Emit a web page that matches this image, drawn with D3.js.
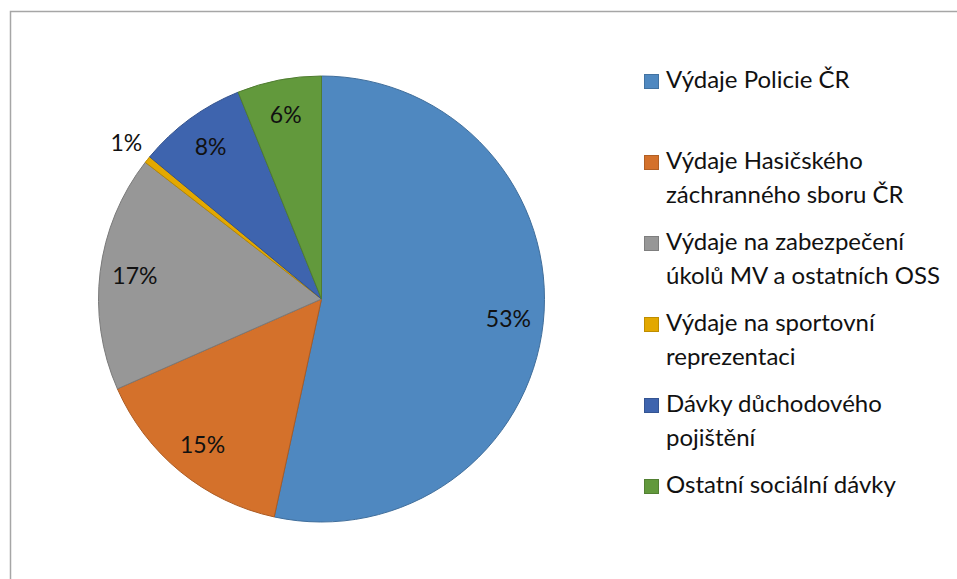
<!DOCTYPE html>
<html>
<head>
<meta charset="utf-8">
<script src="https://cdn.jsdelivr.net/npm/d3@7"></script>
<style>
  body { margin: 0; background: #fff; }
  text { font-family: Lato, "Open Sans", sans-serif; fill: #111; }
</style>
</head>
<body>
<div id="chart"></div>
<script>
// values (share of total, %)
var categories = [
    "Výdaje Policie ČR",
    "Výdaje Hasičského záchranného sboru ČR",
    "Výdaje na zabezpečení úkolů MV a ostatních OSS",
    "Výdaje na sportovní reprezentaci",
    "Dávky důchodového pojištění",
    "Ostatní sociální dávky"
];
var legendLines = [
    ["Výdaje Policie ČR"],
    ["Výdaje Hasičského", "záchranného sboru ČR"],
    ["Výdaje na zabezpečení", "úkolů MV a ostatních OSS"],
    ["Výdaje na sportovní", "reprezentaci"],
    ["Dávky důchodového", "pojištění"],
    ["Ostatní sociální dávky"]
];
var values = [53.4, 15.0, 17.1, 0.5, 7.9, 6.1];
var colors = ["#4f88c0", "#d4712b", "#979797", "#e3a800", "#3e64ae", "#62993c"];

var width = 957, height = 579;
var cx = 321.5, cy = 299, r = 223;

var svg = d3.select("#chart").append("svg")
    .attr("width", width)
    .attr("height", height);

// chart frame (right and bottom edges fall outside the crop)
svg.append("rect")
    .attr("x", 10.5).attr("y", 11.5)
    .attr("width", width + 20).attr("height", height + 20)
    .attr("fill", "none")
    .attr("stroke", "#a6a6a6")
    .attr("stroke-width", 1.5);

var data = categories.map(function(c, i) {
    return { name: c, value: values[i], color: colors[i] };
});

var pie = d3.pie().sort(null).value(function(d) { return d.value; });
var arcs = pie(data);

var arc = d3.arc().innerRadius(0).outerRadius(r);
var labelArc = d3.arc().innerRadius(188).outerRadius(188);
var outsideArc = d3.arc().innerRadius(250).outerRadius(250);

var g = svg.append("g").attr("transform", "translate(" + cx + "," + cy + ")");

g.selectAll("path")
    .data(arcs)
    .enter()
    .append("path")
    .attr("d", arc)
    .attr("fill", function(d) { return d.data.color; })
    .attr("stroke", function(d) { return d3.color(d.data.color).darker(0.6); })
    .attr("stroke-width", 1);

g.selectAll("text.pct")
    .data(arcs)
    .enter()
    .append("text")
    .attr("class", "pct")
    .attr("transform", function(d) {
        var p = d.data.value < 2 ? outsideArc.centroid(d) : labelArc.centroid(d);
        return "translate(" + p[0] + "," + p[1] + ")";
    })
    .attr("text-anchor", "middle")
    .attr("dy", "0.35em")
    .style("font-size", "23px")
    .text(function(d) { return Math.round(d.data.value) + "%"; });

// legend
var legY = d3.scaleLinear().domain([0, 1]).range([88, 169]);
var leg = svg.selectAll("g.leg")
    .data(data)
    .enter()
    .append("g")
    .attr("class", "leg")
    .attr("transform", function(d, i) { return "translate(644," + legY(i) + ")"; });

leg.append("rect")
    .attr("x", 0.5).attr("y", -13.5)
    .attr("width", 14).attr("height", 14)
    .attr("fill", function(d) { return d.color; })
    .attr("stroke", function(d) { return d3.color(d.color).darker(0.5); })
    .attr("stroke-width", 1);

leg.append("text")
    .attr("x", 22)
    .style("font-size", "24px")
    .selectAll("tspan")
    .data(function(d, i) { return legendLines[i]; })
    .enter()
    .append("tspan")
    .attr("x", 22)
    .attr("dy", function(d, j) { return j === 0 ? 0 : 34; })
    .text(function(d) { return d; });
</script>
</body>
</html>
